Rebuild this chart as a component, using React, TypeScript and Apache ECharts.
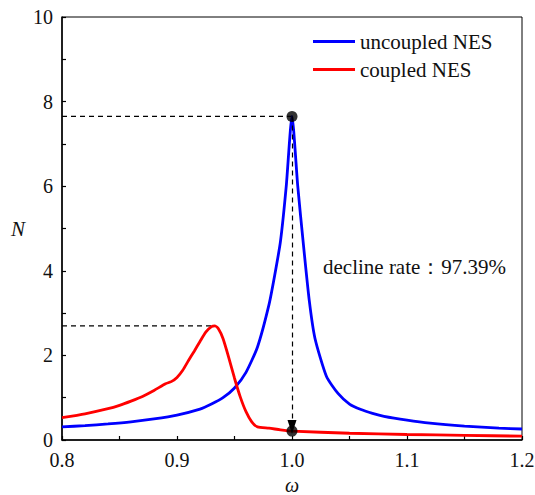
import React, { useEffect, useRef } from "react";
import * as echarts from "echarts";

const uncoupledOmega = [0.8, 0.82, 0.84, 0.86, 0.88, 0.9, 0.92, 0.93, 0.94, 0.95, 0.96, 0.97, 0.98, 0.985, 0.99, 0.995, 1.0, 1.005, 1.01, 1.015, 1.02, 1.03, 1.04, 1.05, 1.06, 1.07, 1.08, 1.1, 1.12, 1.15, 1.18, 1.2];
const uncoupledN = [0.31, 0.34, 0.38, 0.43, 0.5, 0.59, 0.73, 0.85, 1.0, 1.23, 1.6, 2.2, 3.2, 3.9, 4.7, 6.0, 7.65, 6.0, 4.6, 3.3, 2.4, 1.5, 1.1, 0.85, 0.72, 0.63, 0.56, 0.47, 0.4, 0.33, 0.28, 0.26];

const coupledOmega = [0.8, 0.82, 0.84, 0.85, 0.86, 0.87, 0.88, 0.89, 0.895, 0.9, 0.905, 0.91, 0.915, 0.92, 0.925, 0.93, 0.933, 0.936, 0.94, 0.945, 0.95, 0.955, 0.96, 0.965, 0.97, 0.98, 0.99, 1.0, 1.05, 1.1, 1.15, 1.2];
const coupledN = [0.53, 0.62, 0.74, 0.82, 0.92, 1.03, 1.17, 1.33, 1.38, 1.48, 1.65, 1.88, 2.1, 2.33, 2.55, 2.68, 2.7, 2.63, 2.4, 1.95, 1.46, 1.02, 0.67, 0.43, 0.31, 0.28, 0.24, 0.21, 0.16, 0.13, 0.11, 0.09];

const peakUncoupled = [1.0, 7.65];
const peakCoupled = [0.932, 2.7];
const reducedPoint = [1.0, 0.21];
const declineText = "decline rate：97.39%";
const legendNames = ["uncoupled NES", "coupled NES"];

const FONT = "'Liberation Serif', 'Times New Roman', serif";

export default function App() {
  const ref = useRef<HTMLDivElement>(null);
  useEffect(() => {
    if (!ref.current) return;
    const chart = echarts.init(ref.current, null, { renderer: "svg", width: 535, height: 495 });
    const dashed = { color: "#000", width: 1.2, type: [5, 4] as any };
    chart.setOption({
      animation: false,
      backgroundColor: "#fff",
      textStyle: { fontFamily: FONT },
      grid: {
        left: 62,
        right: 13,
        top: 17,
        bottom: 55,
        show: true,
        borderColor: "#000",
        borderWidth: 1,
        outerBoundsMode: "none",
        containLabel: false,
      },
      legend: {
        data: legendNames,
        orient: "vertical",
        left: 308,
        top: 26,
        itemGap: 7,
        itemWidth: 42,
        itemHeight: 3,
        icon: "rect",
        textStyle: { fontFamily: FONT, fontSize: 21, color: "#111" },
      },
      xAxis: {
        type: "value",
        min: 0.8,
        max: 1.2,
        interval: 0.1,
        name: "ω",
        nameLocation: "middle",
        nameGap: 30,
        nameTextStyle: { fontFamily: FONT, fontSize: 20, fontStyle: "italic", color: "#111", lineHeight: 20 },
        axisLine: { lineStyle: { color: "#000", width: 1.5 } },
        axisTick: { inside: true, length: 4, lineStyle: { color: "#000", width: 1.2 } },
        minorTick: { show: true, splitNumber: 2, length: 4, lineStyle: { color: "#000", width: 1.2 } },
        splitLine: { show: false },
        axisLabel: { fontFamily: FONT, fontSize: 20, color: "#111", margin: 10, formatter: (v: number) => v.toFixed(1) },
      },
      yAxis: {
        type: "value",
        min: 0,
        max: 10,
        interval: 2,
        name: "N",
        nameLocation: "middle",
        nameGap: 37,
        nameRotate: 0,
        nameTextStyle: { fontFamily: FONT, fontSize: 21, fontStyle: "italic", color: "#111" },
        axisLine: { show: true, lineStyle: { color: "#000", width: 1.5 } },
        axisTick: { show: true, inside: true, length: 4, lineStyle: { color: "#000", width: 1.2 } },
        minorTick: { show: true, splitNumber: 2, length: 4, lineStyle: { color: "#000", width: 1.2 } },
        splitLine: { show: false },
        axisLabel: { fontFamily: FONT, fontSize: 20, color: "#111", margin: 9 },
      },
      series: [
        {
          name: "uncoupled NES",
          type: "line",
          data: uncoupledOmega.map((x, i) => [x, uncoupledN[i]]),
          showSymbol: false,
          smooth: 0.2,
          lineStyle: { color: "#0000ff", width: 2.8 },
          itemStyle: { color: "#0000ff" },
          z: 3,
        },
        {
          name: "coupled NES",
          type: "line",
          data: coupledOmega.map((x, i) => [x, coupledN[i]]),
          showSymbol: false,
          smooth: 0.2,
          lineStyle: { color: "#ff0000", width: 2.8 },
          itemStyle: { color: "#ff0000" },
          z: 3,
        },
        {
          name: "guide1",
          type: "line",
          data: [[0.8, peakUncoupled[1]], peakUncoupled],
          showSymbol: false,
          lineStyle: dashed,
          z: 2,
        },
        {
          name: "guide2",
          type: "line",
          data: [[0.8, peakCoupled[1]], peakCoupled],
          showSymbol: false,
          lineStyle: dashed,
          z: 2,
          markLine: {
            silent: true,
            symbol: ["none", "triangle"],
            symbolSize: [9, 14],
            label: { show: false },
            lineStyle: dashed,
            data: [[{ coord: peakUncoupled }, { coord: [reducedPoint[0], reducedPoint[1] + 0.1] }]],
          },
        },
        {
          name: "points",
          type: "scatter",
          data: [peakUncoupled, reducedPoint],
          symbol: "circle",
          symbolSize: 11,
          itemStyle: { color: "#000" },
          z: 5,
        },
      ],
      graphic: [
        {
          type: "text",
          left: 323,
          top: 256,
          style: { text: declineText, fontFamily: FONT, fontSize: 21, fill: "#111" },
        },
      ],
    });
    return () => chart.dispose();
  }, []);
  return <div ref={ref} style={{ position: "absolute", left: 0, top: 0, width: 535, height: 495 }} />;
}
